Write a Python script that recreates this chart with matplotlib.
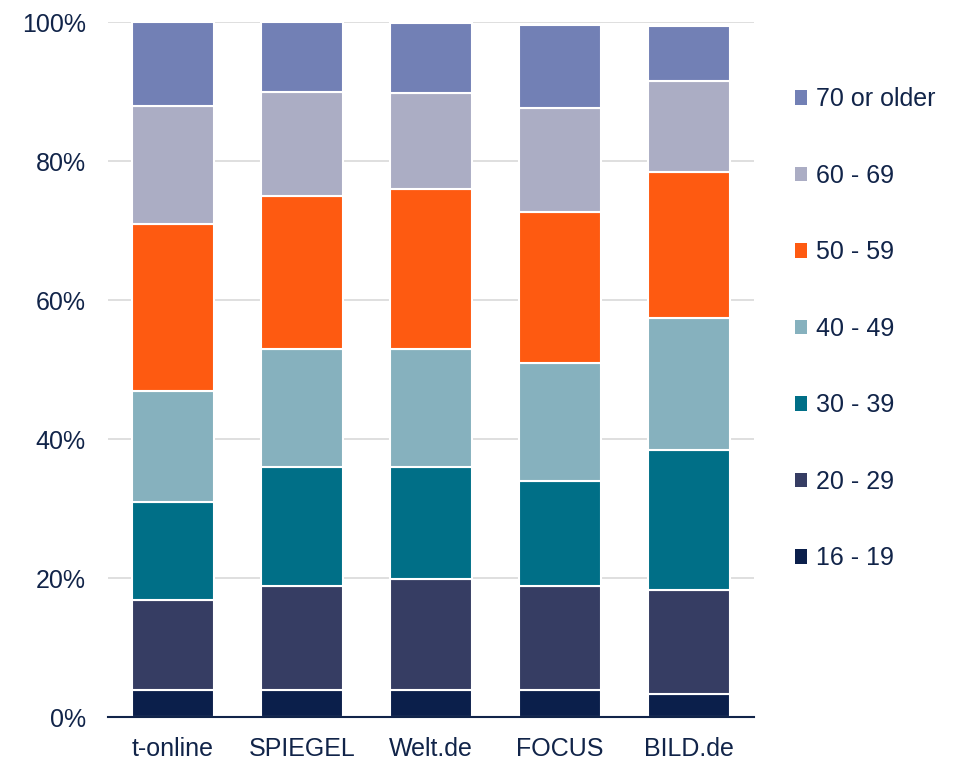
import numpy as np
import matplotlib.pyplot as plt
from matplotlib.patches import Patch

plt.rcParams['font.family'] = ['Liberation Sans', 'DejaVu Sans']

sites = ['t-online', 'SPIEGEL', 'Welt.de', 'FOCUS', 'BILD.de']
groups = ['16 - 19', '20 - 29', '30 - 39', '40 - 49', '50 - 59', '60 - 69', '70 or older']

# share of users per age group (%), bottom to top
age_16_19 = [3.9, 3.9, 3.9, 3.9, 3.4]
age_20_29 = [13.0, 15.0, 16.0, 15.0, 15.0]
age_30_39 = [14.1, 17.1, 16.1, 15.1, 20.1]
age_40_49 = [16.0, 17.0, 17.0, 17.0, 19.0]
age_50_59 = [24.0, 22.0, 23.0, 21.7, 21.0]
age_60_69 = [17.0, 15.0, 13.9, 15.0, 13.1]
age_70_up = [12.0, 10.0, 10.0, 11.9, 7.9]

values = [age_16_19, age_20_29, age_30_39, age_40_49, age_50_59, age_60_69, age_70_up]
colors = ['#0B1F4B', '#363D63', '#006F87', '#86B1BE', '#FE5A11', '#ABADC4', '#7280B5']
txt = '#112449'

fig = plt.figure(figsize=(9.58, 7.61), dpi=100)
ax = fig.add_axes([0.1127, 0.0572, 0.6743, 0.9135])

x = np.arange(len(sites))
bottom = np.zeros(len(sites))
for vals, col, lab in zip(values, colors, groups):
    ax.bar(x, vals, bottom=bottom, width=0.635, color=col, edgecolor='white',
           linewidth=1.5, label=lab, zorder=3)
    bottom += np.array(vals)

ax.set_xlim(-0.5, 4.5)
ax.set_ylim(0, 100)
ax.set_yticks(range(0, 101, 20))
ax.set_yticklabels([f'{v}%' for v in range(0, 101, 20)])
ax.set_xticks(x)
ax.set_xticklabels(sites)
ax.yaxis.grid(True, color='#D9D9D9', linewidth=1.2, zorder=0)
ax.tick_params(axis='both', length=0, labelsize=18, labelcolor=txt)
ax.tick_params(axis='y', pad=16)
ax.tick_params(axis='x', pad=14)
for s in ['top', 'right', 'left']:
    ax.spines[s].set_visible(False)
ax.spines['bottom'].set_color(txt)
ax.spines['bottom'].set_linewidth(1.5)
ax.spines['bottom'].set_zorder(4)

handles = [Patch(facecolor=c, edgecolor='none') for c in colors][::-1]
fig.legend(handles, groups[::-1], loc='center left', bbox_to_anchor=(0.806, 0.568),
           frameon=False, fontsize=18, labelcolor=txt, handlelength=0.5,
           handleheight=0.5, handletextpad=0.35, labelspacing=2.1)

plt.savefig('out.png', dpi=100)
